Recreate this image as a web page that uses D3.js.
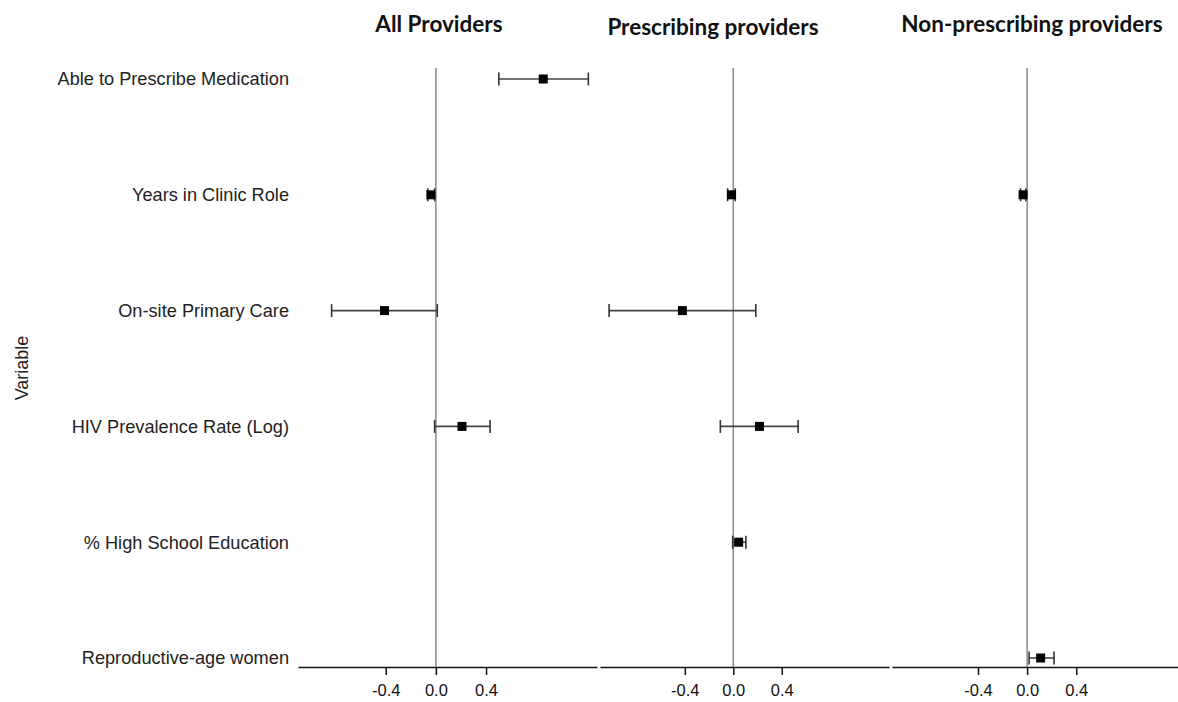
<!DOCTYPE html>
<html><head><meta charset="utf-8">
<script src="https://cdn.jsdelivr.net/npm/d3@7"></script>
<style>body{margin:0;background:#fff;overflow:hidden}</style>
</head><body>
<svg id="c" width="1178" height="702"></svg>
<script>
const variables = ["Able to Prescribe Medication","Years in Clinic Role","On-site Primary Care","HIV Prevalence Rate (Log)","% High School Education","Reproductive-age women"];
const panelTitles = ["All Providers","Prescribing providers","Non-prescribing providers"];
const tickValues = [-0.4, 0.0, 0.4];
const tickLabels = ["-0.4","0.0","0.4"];
// estimates [variable, estimate, lower, upper]
const allProviders = [
  ["Able to Prescribe Medication", 0.856, 0.502, 1.216],
  ["Years in Clinic Role", -0.04, -0.065, -0.01],
  ["On-site Primary Care", -0.41, -0.832, 0.011],
  ["HIV Prevalence Rate (Log)", 0.208, -0.01, 0.432]
];
const prescribing = [
  ["Years in Clinic Role", -0.014, -0.047, 0.016],
  ["On-site Primary Care", -0.42, -1.025, 0.186],
  ["HIV Prevalence Rate (Log)", 0.216, -0.107, 0.535],
  ["% High School Education", 0.044, -0.005, 0.104]
];
const nonPrescribing = [
  ["Years in Clinic Role", -0.033, -0.054, -0.011],
  ["Reproductive-age women", 0.11, 0.016, 0.219]
];
const panelData = [allProviders, prescribing, nonPrescribing];

const svg = d3.select("#c");
const panels = [[298,597],[600,889],[892,1185]];
const domain = [-1.1, 1.285];
const axisY = 667;
const y = d3.scalePoint().domain(variables).range([79, 658]);
const sans = "'Liberation Sans', Arial, sans-serif";

// y labels
svg.append("g").selectAll("text").data(variables).join("text")
  .attr("x", 289).attr("y", d => y(d)).attr("dy","0.35em")
  .attr("text-anchor","end")
  .style("font-family",sans).style("font-size","18.2px").attr("fill","#222")
  .text(d => d);

svg.append("text").attr("transform","translate(28,368) rotate(-90)")
  .attr("text-anchor","middle")
  .style("font-family",sans).style("font-size","18px").attr("fill","#222")
  .text("Variable");

const titleX = [439, 713, 1032];
const titleY = [32, 35, 32];

panels.forEach((r, i) => {
  const x = d3.scaleLinear().domain(domain).range(r);
  const g = svg.append("g");
  // zero line
  g.append("line").attr("x1", x(0)).attr("x2", x(0)).attr("y1", 68).attr("y2", axisY)
    .attr("stroke","#8a8a8a").attr("stroke-width",1.5);
  // axis
  const ax = d3.axisBottom(x).tickValues(tickValues).tickFormat((d,j)=>tickLabels[j]).tickSize(8).tickPadding(9).tickSizeOuter(0);
  const axg = g.append("g").attr("transform",`translate(0,${axisY})`).call(ax);
  axg.select(".domain").attr("stroke","#111").attr("stroke-width",1.5);
  axg.selectAll(".tick line").attr("stroke","#111").attr("stroke-width",1.5);
  axg.selectAll(".tick text").style("font-family",sans).style("font-size","16.5px").attr("fill","#111");
  // title
  g.append("text").attr("x", titleX[i]).attr("y", titleY[i]).attr("text-anchor","middle")
    .style("font-family","Lato, 'Open Sans', sans-serif").style("font-weight","bold").style("font-size","22.5px").attr("fill","#111")
    .text(panelTitles[i]);
  // error bars
  const d = panelData[i];
  const eb = g.append("g").selectAll("g").data(d).join("g");
  eb.append("line").attr("x1", e => x(e[2])).attr("x2", e => x(e[3]))
    .attr("y1", e => y(e[0])).attr("y2", e => y(e[0])).attr("stroke","#444").attr("stroke-width",1.6);
  eb.append("line").attr("x1", e => x(e[2])).attr("x2", e => x(e[2]))
    .attr("y1", e => y(e[0]) - 6.5).attr("y2", e => y(e[0]) + 6.5).attr("stroke","#333").attr("stroke-width",1.6);
  eb.append("line").attr("x1", e => x(e[3])).attr("x2", e => x(e[3]))
    .attr("y1", e => y(e[0]) - 6.5).attr("y2", e => y(e[0]) + 6.5).attr("stroke","#333").attr("stroke-width",1.6);
  eb.append("rect").attr("x", e => x(e[1]) - 4.5).attr("y", e => y(e[0]) - 4.5)
    .attr("width", 9).attr("height", 9).attr("fill","#000");
});
</script>
</body></html>
